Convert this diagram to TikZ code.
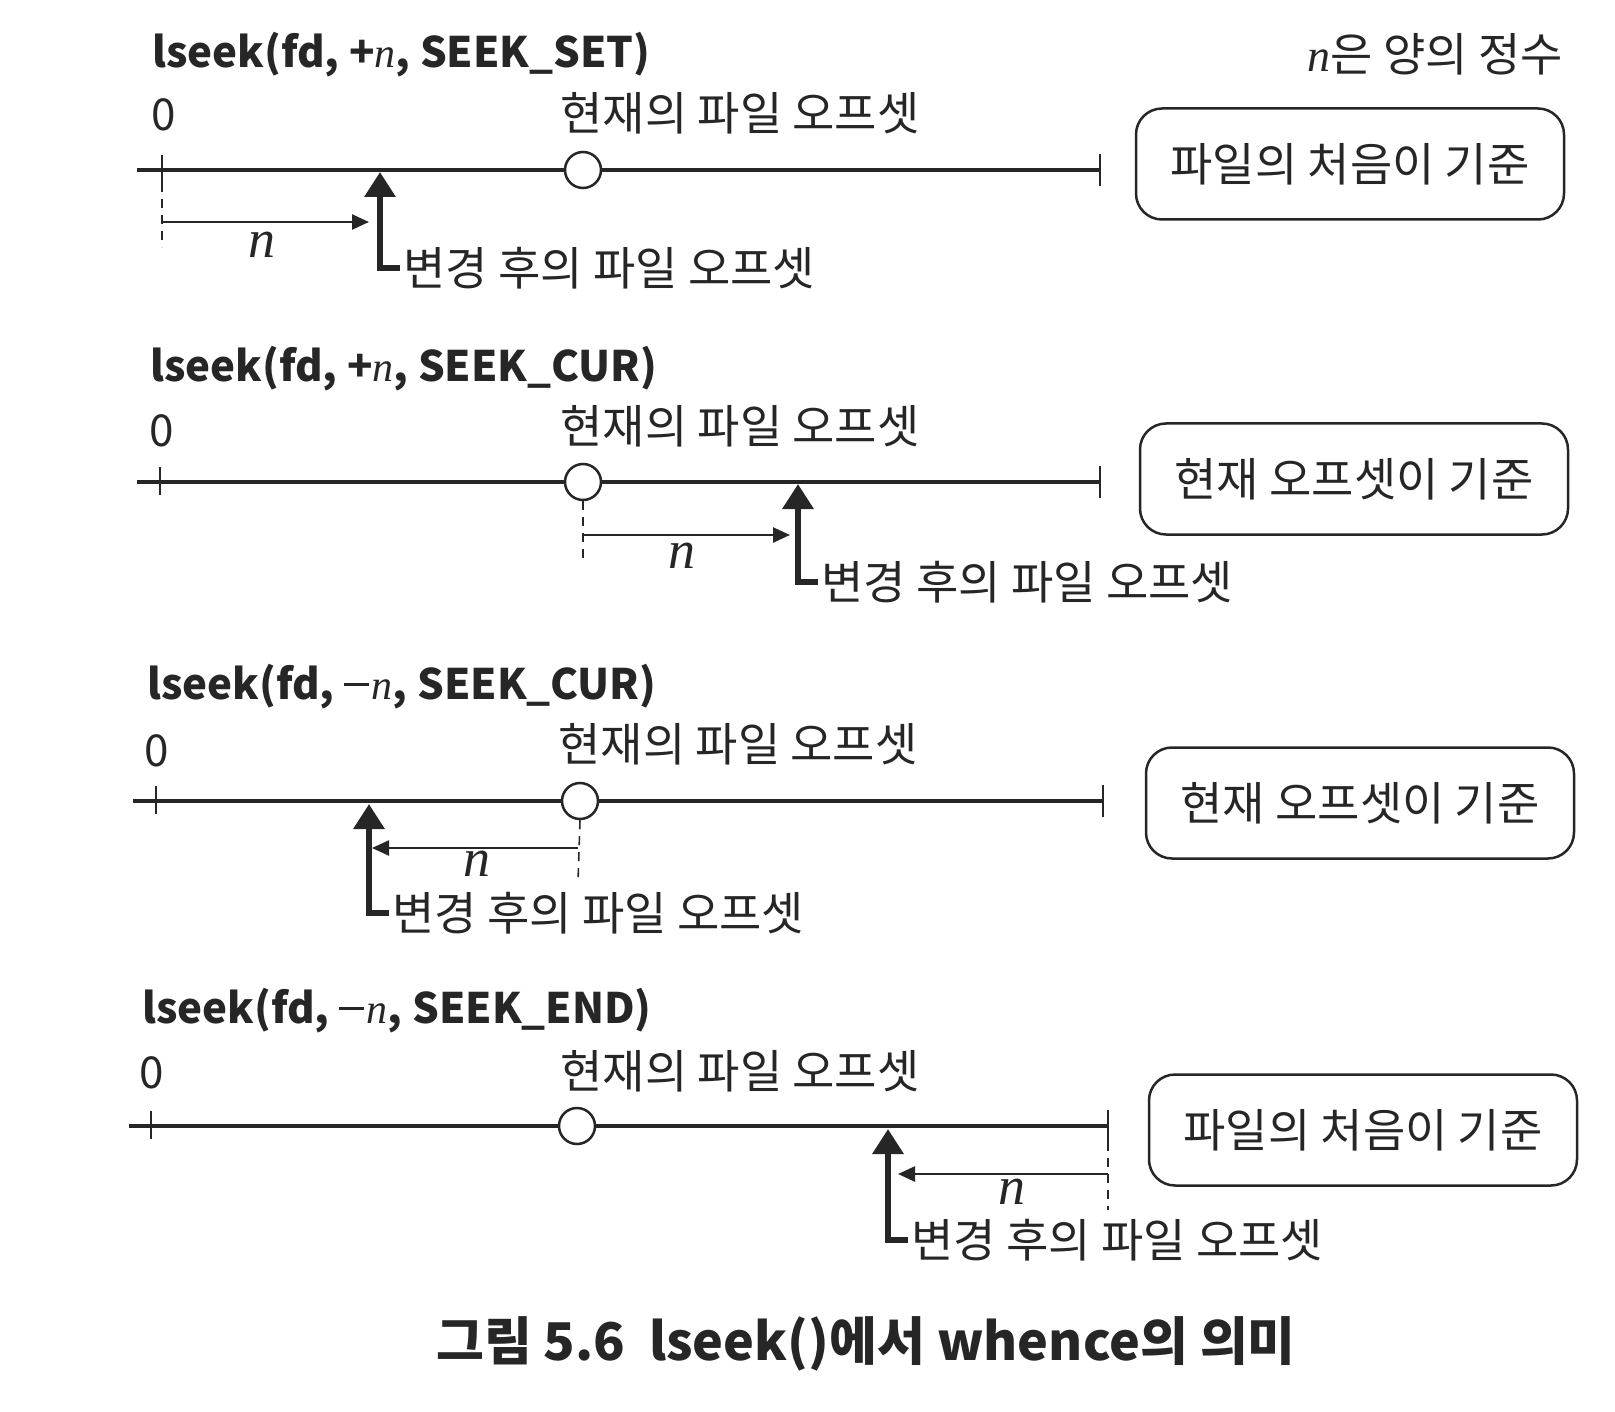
\documentclass[tikz,border=0pt]{standalone}
\usepackage{fontspec}
\setmainfont{Noto Sans CJK KR}
\newfontfamily\nfont{Liberation Serif}
\usetikzlibrary{arrows.meta, positioning, calc}

\definecolor{ink}{gray}{0.15}
\newcommand{\nsym}{{\nfont\itshape\mdseries n}}
\newcommand{\msym}{\raisebox{0.3em}{\rule{0.58em}{0.09em}}\kern0.08em}

\tikzset{
  title/.style={anchor=base west, inner sep=0pt, text=ink, font=\fontsize{42}{48}\selectfont\bfseries},
  lbl/.style={inner sep=3pt, text=ink, font=\fontsize{46}{50}\selectfont},
  nlbl/.style={inner sep=0pt, text=ink, font=\fontsize{54}{60}\selectfont},
  num/.style={inner sep=0pt, text=ink, font=\fontsize{44}{50}\selectfont},
  axis/.style={draw=ink, line width=4pt},
  tick/.style={draw=ink, line width=2.5pt},
  cur/.style={circle, draw=ink, fill=white, line width=2.5pt, minimum size=36pt, inner sep=0pt},
  refline/.style={draw=ink, line width=1.6pt, dash pattern=on 9pt off 7pt},
  narrow/.style={draw=ink, line width=2.5pt, -{Triangle[width=15pt,length=17pt]}},
  newoff/.style={draw=ink, line width=6.5pt, -{Triangle[width=30pt,length=25pt]}},
  basis/.style={draw=ink, line width=2.5pt, rounded corners=26pt, minimum width=428pt, minimum height=111pt, text=ink, font=\fontsize{46}{52}\selectfont}
}

\begin{document}
\begin{tikzpicture}[x=1pt, y=-1pt]
  \useasboundingbox (0,0) rectangle (1615,1412);

  \node[lbl, anchor=east] (posn) at (1566,54) {\nsym 은 양의 정수};

  % lseek(fd, +n, SEEK_SET)
  \node[title] (ttl1) at (152,68) {lseek(fd, +\nsym, SEEK\_SET)};
  \coordinate (s1) at (137,170);
  \coordinate (e1) at (1100,170);
  \coordinate (o1) at (162,170);
  \draw[axis] (s1) -- (e1);
  \draw[tick] ($(o1)+(0,-15)$) -- ($(o1)+(0,13)$);
  \draw[tick] ($(e1)+(0,-16)$) -- ($(e1)+(0,16)$);
  \node[num] (zero1) at (164,115) {0};
  \node[cur] (cur1) at (583,170) {};
  \node[lbl] (curlbl1) at (740,113) {현재의 파일 오프셋};
  \coordinate (r1) at (162,247);
  \draw[refline] ($(o1)+(0,13)$) -- (r1);
  \coordinate (from1) at (162,222);
  \coordinate (to1) at (369,222);
  \draw[narrow] (from1) -- (to1);
  \node[nlbl] (n1) at (262,245) {\nsym};
  \coordinate (new1) at (380,172);
  \node[lbl, anchor=west] (newlbl1) at (400,268) {변경 후의 파일 오프셋};
  \draw[newoff] (newlbl1.west) -| (new1);
  \node[basis] (basis1) at (1350,164) {파일의 처음이 기준};

  % lseek(fd, +n, SEEK_CUR)
  \node[title] (ttl2) at (150,382) {lseek(fd, +\nsym, SEEK\_CUR)};
  \coordinate (s2) at (137,482);
  \coordinate (e2) at (1100,482);
  \coordinate (o2) at (160,482);
  \draw[axis] (s2) -- (e2);
  \draw[tick] ($(o2)+(0,-15)$) -- ($(o2)+(0,13)$);
  \draw[tick] ($(e2)+(0,-16)$) -- ($(e2)+(0,16)$);
  \node[num] (zero2) at (162,431) {0};
  \node[cur] (cur2) at (583,482) {};
  \node[lbl] (curlbl2) at (740,426) {현재의 파일 오프셋};
  \coordinate (r2) at (583,560);
  \draw[refline] (cur2.south) -- (r2);
  \coordinate (from2) at (583,535);
  \coordinate (to2) at (790,535);
  \draw[narrow] (from2) -- (to2);
  \node[nlbl] (n2) at (682,556) {\nsym};
  \coordinate (new2) at (798,484);
  \node[lbl, anchor=west] (newlbl2) at (818,582) {변경 후의 파일 오프셋};
  \draw[newoff] (newlbl2.west) -| (new2);
  \node[basis] (basis2) at (1354,479) {현재 오프셋이 기준};

  % lseek(fd, -n, SEEK_CUR)
  \node[title] (ttl3) at (147,699) {lseek(fd, \msym\nsym, SEEK\_CUR)};
  \coordinate (s3) at (133,801);
  \coordinate (e3) at (1103,801);
  \coordinate (o3) at (156,801);
  \draw[axis] (s3) -- (e3);
  \draw[tick] ($(o3)+(0,-15)$) -- ($(o3)+(0,13)$);
  \draw[tick] ($(e3)+(0,-16)$) -- ($(e3)+(0,16)$);
  \node[num] (zero3) at (157,751) {0};
  \node[cur] (cur3) at (580,801) {};
  \node[lbl] (curlbl3) at (738,744) {현재의 파일 오프셋};
  \coordinate (r3) at (578,882);
  \draw[refline] (cur3.south) -- (r3);
  \coordinate (from3) at (578,848);
  \coordinate (to3) at (372,848);
  \draw[narrow] (from3) -- (to3);
  \node[nlbl] (n3) at (477,864) {\nsym};
  \coordinate (new3) at (369,804);
  \node[lbl, anchor=west] (newlbl3) at (389,913) {변경 후의 파일 오프셋};
  \draw[newoff] (newlbl3.west) -| (new3);
  \node[basis] (basis3) at (1360,803) {현재 오프셋이 기준};

  % lseek(fd, -n, SEEK_END)
  \node[title] (ttl4) at (142,1023) {lseek(fd, \msym\nsym, SEEK\_END)};
  \coordinate (s4) at (129,1126);
  \coordinate (e4) at (1108,1126);
  \coordinate (o4) at (151,1126);
  \draw[axis] (s4) -- (e4);
  \draw[tick] ($(o4)+(0,-15)$) -- ($(o4)+(0,13)$);
  \draw[tick] ($(e4)+(0,-16)$) -- ($(e4)+(0,16)$);
  \node[num] (zero4) at (152,1073) {0};
  \node[cur] (cur4) at (577,1126) {};
  \node[lbl] (curlbl4) at (740,1071) {현재의 파일 오프셋};
  \coordinate (r4) at (1108,1210);
  \draw[refline] ($(e4)+(0,16)$) -- (r4);
  \coordinate (from4) at (1108,1174);
  \coordinate (to4) at (898,1174);
  \draw[narrow] (from4) -- (to4);
  \node[nlbl] (n4) at (1012,1192) {\nsym};
  \coordinate (new4) at (888,1129);
  \node[lbl, anchor=west] (newlbl4) at (908,1240) {변경 후의 파일 오프셋};
  \draw[newoff] (newlbl4.west) -| (new4);
  \node[basis] (basis4) at (1363,1130) {파일의 처음이 기준};

  \node[text=ink, font=\fontsize{52}{58}\selectfont\bfseries] (caption) at (866,1344) {그림 5.6\ \ lseek()에서 whence의 의미};
\end{tikzpicture}
\end{document}
